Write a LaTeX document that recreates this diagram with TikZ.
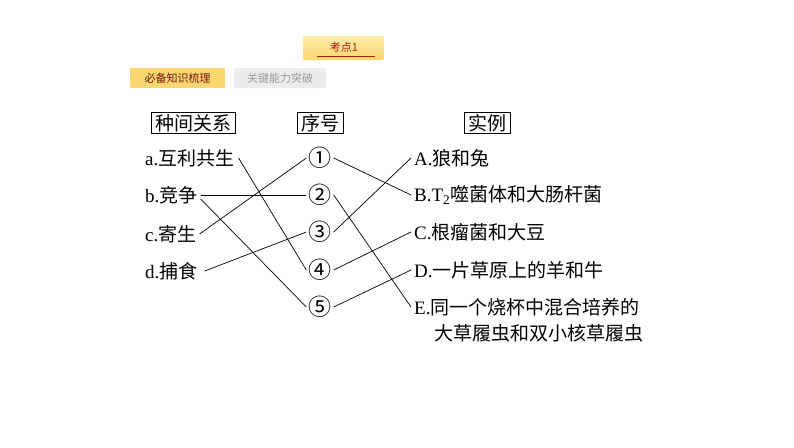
\documentclass[tikz,border=0pt]{standalone}
\usepackage{fontspec}
\setmainfont{Liberation Serif}
\newfontfamily\cjk{Noto Sans CJK SC}
\definecolor{btnyellow}{RGB}{252,214,110}
\definecolor{btnlight}{RGB}{255,236,170}
\definecolor{btngray}{RGB}{236,236,236}
\definecolor{txtred}{RGB}{170,30,20}
\tikzset{
  hdr/.style={draw,line width=0.8pt,inner xsep=4pt,inner ysep=2pt,font=\fontsize{19}{21}\selectfont\cjk},
  lbl/.style={anchor=west,inner sep=1pt,font=\fontsize{19}{21}\selectfont},
  num/.style={inner sep=0pt,font=\fontsize{23}{24}\selectfont\cjk},
  link/.style={line width=0.7pt}
}
\begin{document}
\begin{tikzpicture}[x=1pt,y=-1pt]
  \useasboundingbox (0,0) rectangle (794,447);
  % top buttons
  \shade[top color=btnlight,bottom color=btnyellow,rounded corners=2pt] (303,36) rectangle (384,60);
  \node[text=txtred,font=\fontsize{11}{12}\selectfont\cjk] (kd) at (344,47) {考点1};
  \draw[txtred,line width=0.6pt] (317,56) -- (375,56);
  \fill[btnyellow,rounded corners=1pt] (130,68) rectangle (225,88);
  \node[text=txtred!70!black,font=\fontsize{11}{12}\selectfont\cjk] (bb) at (177.5,78) {必备知识梳理};
  \fill[btngray,rounded corners=1pt] (234,68) rectangle (326,88);
  \node[text=gray!80,font=\fontsize{11}{12}\selectfont\cjk] (gj) at (280,78) {关键能力突破};

  % headings
  \node[hdr] (h1) at (193,123) {种间关系};
  \node[hdr] (h2) at (320,123) {序号};
  \node[hdr] (h3) at (487,123) {实例};

  % left column
  \node[lbl] (a) at (144,158) {a.{\cjk 互利共生}};
  \node[lbl] (b) at (144,195) {b.{\cjk 竞争}};
  \node[lbl] (c) at (144,234) {c.{\cjk 寄生}};
  \node[lbl] (d) at (144,271) {d.{\cjk 捕食}};

  % middle column
  \foreach \n/\y/\s in {1/158/①,2/195/②,3/232/③,4/270/④,5/307/⑤}
    \node[num] (n\n) at (320,\y) {\s};

  % right column
  \node[lbl] (A) at (413,158) {A.{\cjk 狼和兔}};
  \node[lbl] (B) at (413,195) {B.T\textsubscript{2}{\cjk 噬菌体和大肠杆菌}};
  \node[lbl] (C) at (413,232) {C.{\cjk 根瘤菌和大豆}};
  \node[lbl] (D) at (413,270) {D.{\cjk 一片草原上的羊和牛}};
  \node[lbl] (E) at (413,307) {E.{\cjk 同一个烧杯中混合培养的}};
  \node[lbl] (E2) at (433,333) {\cjk 大草履虫和双小核草履虫};

  % links
  \draw[link] ([xshift=3pt]a.east) -- ([xshift=-2pt]n4.west);
  \draw[link] ([xshift=2pt]b.east) -- ([xshift=-2pt]n2.west);
  \draw[link] ([xshift=2pt,yshift=-4pt]b.east) -- ([xshift=-2pt]n5.west);
  \draw[link] ([xshift=2pt]c.east) -- ([xshift=-2pt]n1.west);
  \draw[link] ([xshift=6pt]d.east) -- ([xshift=-2pt]n3.west);
  \draw[link] ([xshift=2pt]n1.east) -- ([xshift=-2pt]B.west);
  \draw[link] ([xshift=2pt]n2.east) -- ([xshift=-2pt]E.west);
  \draw[link] ([xshift=2pt]n3.east) -- ([xshift=-2pt]A.west);
  \draw[link] ([xshift=2pt]n4.east) -- ([xshift=-2pt]C.west);
  \draw[link] ([xshift=2pt]n5.east) -- ([xshift=-2pt]D.west);
\end{tikzpicture}
\end{document}
